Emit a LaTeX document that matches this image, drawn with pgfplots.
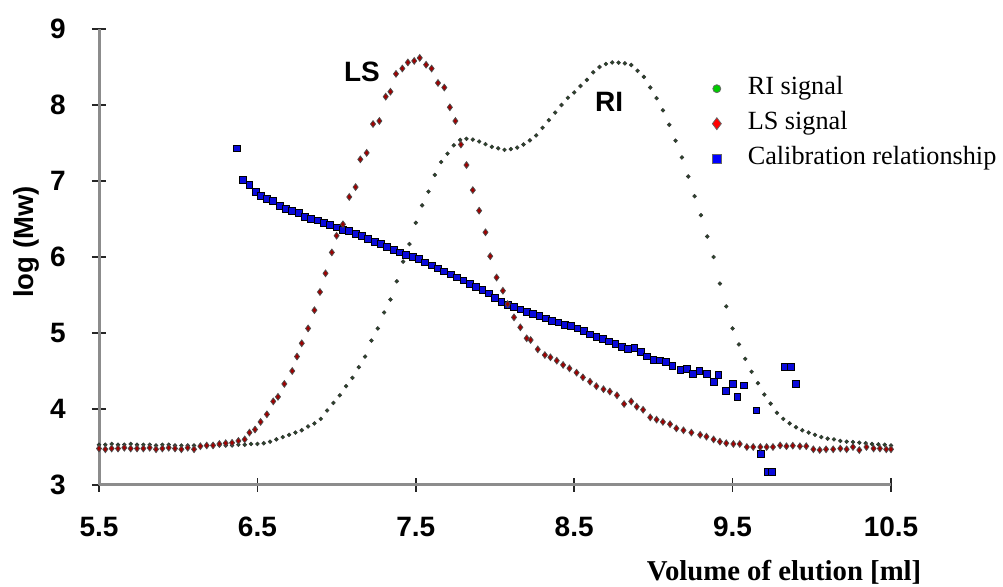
\documentclass[border=0pt]{standalone}
\usepackage{pgfplots}
\pgfplotsset{compat=1.18}
\usepackage{fontspec}
\setmainfont{Liberation Serif}
\newfontfamily\hel{Liberation Sans}

\definecolor{ridot}{RGB}{40,75,40}
\definecolor{lsdot}{RGB}{200,0,0}
\definecolor{calsq}{RGB}{10,10,220}

% RI signal
\pgfplotstableread{
x y
5.50 3.53
5.54 3.53
5.58 3.54
5.62 3.53
5.66 3.53
5.70 3.54
5.74 3.53
5.78 3.53
5.82 3.53
5.86 3.52
5.90 3.53
5.94 3.53
5.98 3.52
6.02 3.52
6.06 3.52
6.10 3.52
6.14 3.52
6.18 3.52
6.22 3.53
6.26 3.52
6.30 3.52
6.34 3.52
6.38 3.53
6.42 3.53
6.46 3.54
6.50 3.54
6.54 3.55
6.58 3.57
6.62 3.60
6.66 3.63
6.70 3.66
6.74 3.69
6.78 3.72
6.82 3.77
6.86 3.81
6.90 3.87
6.94 3.98
6.98 4.08
7.02 4.18
7.06 4.30
7.10 4.41
7.14 4.55
7.18 4.69
7.22 4.90
7.26 5.06
7.30 5.27
7.34 5.44
7.38 5.68
7.42 5.94
7.46 6.17
7.50 6.45
7.54 6.68
7.58 6.86
7.62 7.08
7.66 7.25
7.70 7.36
7.74 7.47
7.78 7.54
7.82 7.555
7.86 7.545
7.90 7.52
7.94 7.485
7.98 7.45
8.02 7.43
8.06 7.41
8.10 7.42
8.14 7.44
8.18 7.48
8.22 7.535
8.26 7.60
8.30 7.70
8.34 7.80
8.38 7.90
8.42 8.00
8.46 8.095
8.50 8.165
8.54 8.25
8.58 8.33
8.62 8.43
8.66 8.50
8.70 8.54
8.74 8.56
8.78 8.557
8.82 8.548
8.86 8.526
8.90 8.45
8.94 8.37
8.98 8.23
9.02 8.09
9.06 7.93
9.10 7.74
9.14 7.53
9.18 7.31
9.22 7.06
9.26 6.80
9.30 6.55
9.34 6.27
9.38 6.00
9.42 5.65
9.46 5.35
9.50 5.06
9.54 4.85
9.58 4.66
9.62 4.49
9.66 4.34
9.70 4.19
9.74 4.07
9.78 3.95
9.82 3.87
9.86 3.81
9.90 3.76
9.94 3.72
9.98 3.69
10.02 3.66
10.06 3.63
10.10 3.61
10.14 3.60
10.18 3.58
10.22 3.57
10.26 3.565
10.30 3.557
10.34 3.55
10.38 3.54
10.42 3.535
10.46 3.53
10.50 3.52
}\ridata

% LS signal
\pgfplotstableread{
x y
5.50 3.48
5.54 3.47
5.58 3.48
5.62 3.48
5.66 3.49
5.70 3.48
5.74 3.48
5.78 3.48
5.82 3.49
5.86 3.47
5.90 3.48
5.94 3.49
5.98 3.48
6.02 3.47
6.06 3.49
6.10 3.47
6.14 3.51
6.18 3.52
6.22 3.52
6.26 3.54
6.30 3.55
6.34 3.555
6.38 3.58
6.42 3.60
6.45 3.69
6.485 3.73
6.52 3.83
6.56 3.93
6.60 4.10
6.63 4.16
6.67 4.33
6.72 4.50
6.75 4.69
6.78 4.865
6.82 5.06
6.86 5.30
6.895 5.54
6.93 5.785
6.97 6.06
7.00 6.28
7.04 6.43
7.08 6.79
7.12 6.92
7.15 7.285
7.19 7.37
7.23 7.75
7.27 7.79
7.31 8.11
7.34 8.175
7.375 8.41
7.415 8.48
7.45 8.56
7.49 8.58
7.525 8.62
7.565 8.53
7.60 8.48
7.64 8.29
7.68 8.23
7.715 7.97
7.75 7.79
7.785 7.48
7.82 7.21
7.86 6.88
7.90 6.61
7.94 6.325
7.97 6.01
8.01 5.73
8.05 5.556
8.08 5.38
8.12 5.206
8.16 5.075
8.20 4.93
8.225 4.908
8.27 4.785
8.315 4.71
8.35 4.68
8.39 4.636
8.43 4.58
8.47 4.535
8.515 4.478
8.555 4.417
8.60 4.36
8.64 4.30
8.685 4.26
8.725 4.23
8.77 4.18
8.815 4.066
8.86 4.10
8.895 4.03
8.935 3.99
8.98 3.89
9.02 3.86
9.06 3.83
9.105 3.80
9.145 3.745
9.19 3.72
9.24 3.69
9.295 3.66
9.335 3.636
9.38 3.60
9.42 3.57
9.46 3.55
9.505 3.54
9.545 3.54
9.59 3.50
9.63 3.50
9.675 3.50
9.715 3.50
9.755 3.50
9.80 3.52
9.84 3.51
9.88 3.517
9.925 3.51
9.965 3.51
10.01 3.47
10.05 3.46
10.09 3.47
10.135 3.47
10.18 3.48
10.22 3.47
10.26 3.50
10.30 3.46
10.345 3.50
10.39 3.48
10.43 3.48
10.47 3.47
10.50 3.47
}\lsdata

% calibration relationship
\pgfplotstableread{
x y
6.37 7.43
6.41 7.01
6.45 6.95
6.49 6.86
6.52 6.80
6.56 6.76
6.60 6.74
6.64 6.67
6.68 6.63
6.72 6.61
6.76 6.58
6.80 6.53
6.84 6.50
6.88 6.48
6.92 6.45
6.96 6.42
7.00 6.39
7.04 6.36
7.08 6.34
7.12 6.30
7.16 6.28
7.20 6.24
7.24 6.20
7.28 6.17
7.32 6.13
7.36 6.09
7.40 6.06
7.44 6.03
7.48 6.00
7.52 5.97
7.56 5.93
7.60 5.89
7.64 5.85
7.68 5.81
7.72 5.77
7.76 5.73
7.80 5.69
7.84 5.65
7.88 5.61
7.92 5.57
7.96 5.52
8.00 5.46
8.04 5.41
8.08 5.37
8.12 5.34
8.16 5.31
8.20 5.28
8.24 5.25
8.28 5.22
8.32 5.19
8.36 5.16
8.40 5.14
8.44 5.11
8.48 5.09
8.52 5.06
8.56 5.03
8.60 4.98
8.64 4.95
8.68 4.92
8.72 4.89
8.76 4.86
8.80 4.82
8.84 4.79
8.88 4.80
8.92 4.75
8.96 4.69
9.00 4.65
9.04 4.64
9.08 4.62
9.12 4.57
9.17 4.51
9.21 4.53
9.25 4.46
9.29 4.50
9.34 4.46
9.38 4.36
9.41 4.45
9.46 4.24
9.50 4.33
9.53 4.16
9.57 4.31
9.65 3.98
9.68 3.41
9.72 3.175
9.75 3.175
9.83 4.55
9.87 4.55
9.90 4.33
}\caldata

\begin{document}
\begin{tikzpicture}
\useasboundingbox (-39.6pt,-40.8pt) rectangle (361.6pt,194pt);
\begin{axis}[
    width=316.8pt, height=182.4pt,
    scale only axis,
    clip=false,
    xmin=5.5, xmax=10.5,
    ymin=3, ymax=9,
    axis x line=bottom, axis y line=left,
    axis line style={-, draw=black!45, line width=1.2pt},
    xtick={5.5,6.5,7.5,8.5,9.5,10.5},
    ytick={3,4,5,6,7,8,9},
    xticklabels={5.5,6.5,7.5,8.5,9.5,10.5},
    tick align=center,
    major tick length=5.6pt,
    tick style={black!85, line width=0.7pt},
    tick label style={font=\hel\bfseries\fontsize{11.2}{13}\selectfont},
    /pgf/number format/assume math mode=true,
    xticklabel style={yshift=-6.5pt},
    yticklabel style={xshift=-7pt},
    xlabel={\textbf{Volume of elution [ml]}},
    xlabel style={at={(rel axis cs:0.865,-0.2105)}, anchor=base, font=\fontsize{11.5}{13}\selectfont},
    ylabel={log (Mw)},
    ylabel style={at={(rel axis cs:-0.091,0.533)}, anchor=center, rotate=0, font=\hel\bfseries\fontsize{11}{13}\selectfont},
    legend image code/.code={
        \path[draw=none, fill=none] (-0.3cm,0cm) -- (0.4cm,0cm);
        \draw[#1] plot coordinates {(0cm,0cm)};
    },
    legend style={at={(rel axis cs:0.7525,0.902)}, anchor=north west, draw=none, fill=none,
        inner sep=0pt, row sep=2.4pt,
        font=\fontsize{10.5}{12}\selectfont,
        nodes={text height=7.3pt, text depth=2.3pt, inner sep=1pt}},
    legend cell align=left,
]
\addplot[only marks, mark=square*, mark size=1.35pt,
    mark options={fill=calsq, draw=black, line width=0.35pt}, forget plot] table {\caldata};
\addplot[only marks, mark=*, mark size=0.75pt,
    mark options={fill=ridot, draw=black!80, line width=0.25pt}, forget plot] table {\ridata};
\addplot[only marks, mark=diamond*, mark size=1.35pt,
    mark options={fill=lsdot!80!black, draw=black!70, line width=0.3pt}, forget plot] table {\lsdata};
\addlegendimage{only marks, mark=*, mark size=1.6pt, mark options={fill=green!80!black, draw=black!60, line width=0.3pt}}
\addlegendentry{RI signal}
\addlegendimage{only marks, mark=diamond*, mark size=2.4pt, mark options={fill=red, draw=black!60, line width=0.3pt}}
\addlegendentry{LS signal}
\addlegendimage{only marks, mark=square*, mark size=1.8pt, mark options={fill=blue, draw=black!60, line width=0.3pt}}
\addlegendentry{Calibration relationship}
\node[font=\hel\bfseries\fontsize{11.2}{13}\selectfont] at (axis cs:7.16,8.434) {LS};
\node[font=\hel\bfseries\fontsize{11.2}{13}\selectfont] at (axis cs:8.72,8.04) {RI};
\end{axis}
\end{tikzpicture}
\end{document}
